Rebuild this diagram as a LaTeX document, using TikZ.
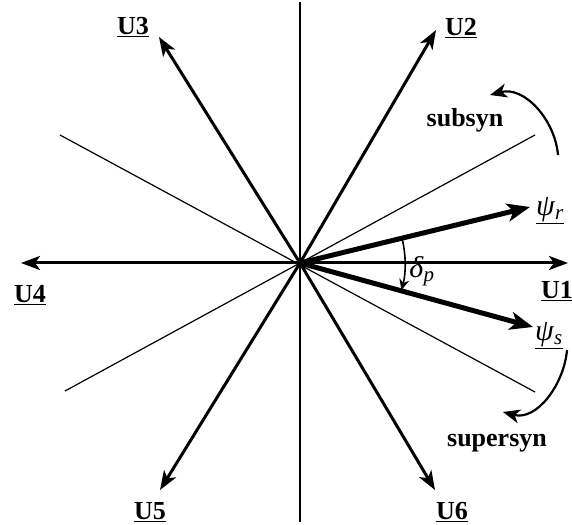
\documentclass[tikz,border=0pt]{standalone}
\usepackage{fontspec}
\setmainfont{Liberation Serif}
\usetikzlibrary{arrows.meta}
\begin{document}
\begin{tikzpicture}[x=1pt,y=1pt,
  vec/.style={line width=3pt,-{Stealth[length=19pt,width=14pt,inset=5pt]}},
  flux/.style={line width=5pt,-{Stealth[length=23pt,width=18pt,inset=6pt]}},
  guide/.style={line width=1.2pt},
  axisline/.style={line width=1.5pt},
  lbl/.style={font=\fontsize{26}{28}\selectfont\bfseries, inner sep=0pt},
  grk/.style={font=\fontsize{30}{32}\selectfont, inner sep=0pt},
  rotarrow/.style={line width=2.2pt,-{Stealth[length=17pt,width=14pt,inset=5pt]}}]
\useasboundingbox (-300,-261) rectangle (272,263);
% coordinates
\coordinate (O) at (0,0);
\coordinate (t1) at (268,0);
\coordinate (t2) at (136,233);
\coordinate (t3) at (-141,226);
\coordinate (t4) at (-279,0);
\coordinate (t5) at (-140,-227);
\coordinate (t6) at (135,-227);
\coordinate (g1) at (235,128);
\coordinate (g2) at (-235,-128);
\coordinate (g3) at (-240,128);
\coordinate (g4) at (235,-129);
\coordinate (vt) at (0,261);
\coordinate (vb) at (0,-259);
\coordinate (pr) at (230,56);
\coordinate (ps) at (233,-64);
\coordinate (d1) at (13.7:105);
\coordinate (sb1) at (258,108);
\coordinate (sb2) at (190,168);
\coordinate (sp1) at (267,-87);
\coordinate (sp2) at (203,-149);
% guide lines
\draw[guide] (g1) -- (g2);
\draw[guide] (g3) -- (g4);
\draw[axisline] (vt) -- (vb);
% voltage vectors
\draw[vec] (O) -- (t1);
\draw[vec] (O) -- (t2);
\draw[vec] (O) -- (t3);
\draw[vec] (O) -- (t4);
\draw[vec] (O) -- (t5);
\draw[vec] (O) -- (t6);
% flux vectors
\draw[flux] (O) -- (pr);
\draw[flux] (O) -- (ps);
% load angle
\draw[line width=1.6pt,-{Stealth[length=11pt,width=10pt]}] (d1) arc[start angle=13.7, end angle=-15, radius=105];
% rotation arrows
\draw[rotarrow] (sb1) to[out=95,in=15] (sb2);
\draw[rotarrow] (sp1) to[out=-95,in=-15] (sp2);
% labels
\node[lbl] (lU1) at (257,-28) {\underline{U1}};
\node[lbl] (lU2) at (161,235) {\underline{U2}};
\node[lbl] (lU3) at (-167,236) {\underline{U3}};
\node[lbl] (lU4) at (-270,-32) {\underline{U4}};
\node[lbl] (lU5) at (-150,-249) {\underline{U5}};
\node[lbl] (lU6) at (152,-249) {\underline{U6}};
\node[grk] (lpr) at (250,52) {\underline{\textit{ψ}\textsubscript{\textit{r}}}};
\node[grk] (lps) at (249,-73) {\underline{\textit{ψ}\textsubscript{\textit{s}}}};
\node[grk] (ld) at (122,-8) {\textit{δ}\textsubscript{\textit{p}}};
\node[lbl] (lsub) at (165,143) {subsyn};
\node[lbl] (lsup) at (197,-180) {supersyn};
\end{tikzpicture}
\end{document}
